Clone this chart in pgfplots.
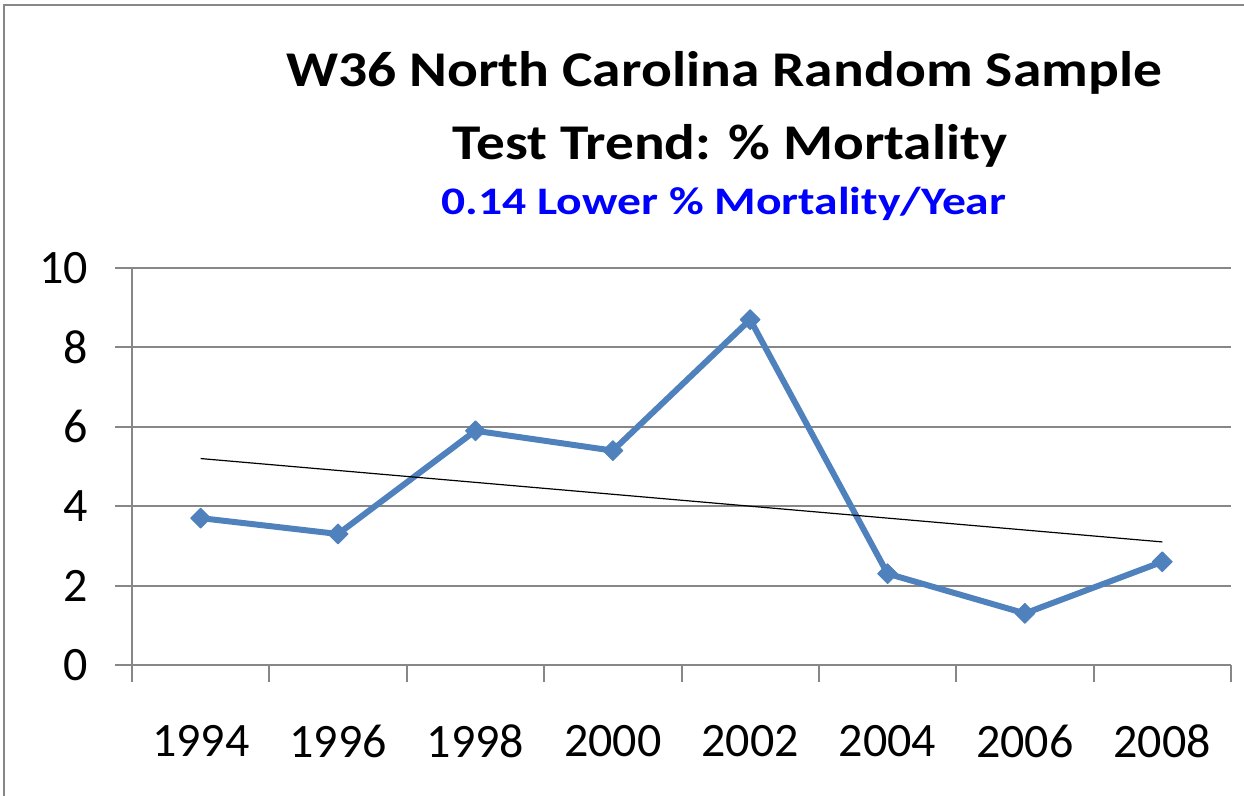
\documentclass[border=0pt]{standalone}
\usepackage{fontspec}
\setmainfont{Carlito}
\usepackage{graphicx}
\usepackage{pgfplots}
\pgfplotsset{compat=1.18}
\definecolor{xlblue}{HTML}{4F81BD}
\definecolor{gridgray}{HTML}{878787}
\definecolor{titleblue}{HTML}{0000FF}

\begin{document}
\begin{tikzpicture}
\useasboundingbox (0,0) rectangle (622pt,-398pt);
\draw[gridgray, line width=1pt] (2pt,-398pt) -- (2pt,-2.5pt) -- (622pt,-2.5pt);
% Excel's title is set wider than Carlito, hence the horizontal stretch
\node[anchor=base, inner sep=0pt, font=\bfseries\fontsize{25}{30}\selectfont] at (362pt,-43.5pt) {\scalebox{1.15}[1]{W36 North Carolina Random Sample}};
\node[anchor=base, inner sep=0pt, font=\bfseries\fontsize{25}{30}\selectfont] at (365pt,-80pt) {\scalebox{1.145}[1]{Test Trend: \% Mortality}};
\node[anchor=base, inner sep=0pt, text=titleblue, font=\bfseries\fontsize{19.5}{23}\selectfont] at (362pt,-107.5pt) {\scalebox{1.22}[1]{0.14 Lower \% Mortality/Year}};
\begin{axis}[
  at={(66pt,-332.5pt)}, anchor=south west,
  scale only axis, width=549.5pt, height=198.5pt,
  xmin=-0.5, xmax=7.5, ymin=0, ymax=10,
  ytick={0,2,...,10},
  xtick={0,...,7},
  xticklabels={1994,1996,1998,2000,2002,2004,2006,2008},
  minor xtick={-0.5,0.5,...,7.5},
  ymajorgrids, grid style={gridgray, line width=1pt},
  axis x line*=bottom, axis y line*=left,
  axis line style={gridgray, line width=1pt, -},
  tick style={gridgray, line width=1pt},
  major x tick style={draw=none},
  major tick length=8.5pt, minor tick length=8.5pt, tick align=outside,
  tick label style={font=\fontsize{24}{28}\selectfont},
  xticklabel style={yshift=-18pt},
  yticklabel style={xshift=-10pt},
  /pgf/number format/assume math mode=true,
  clip=false,
]
\addplot[xlblue, line width=3pt, line join=round, mark=square*, mark size=3.5pt,
  mark options={rotate=45, solid, fill=xlblue, draw=xlblue, line width=0.5pt}]
  coordinates {(0,3.7) (1,3.3) (2,5.9) (3,5.4) (4,8.7) (5,2.3) (6,1.3) (7,2.6)};
\addplot[black, line width=0.6pt] coordinates {(0,5.2) (7,3.1)};
\end{axis}
\end{tikzpicture}
\end{document}
